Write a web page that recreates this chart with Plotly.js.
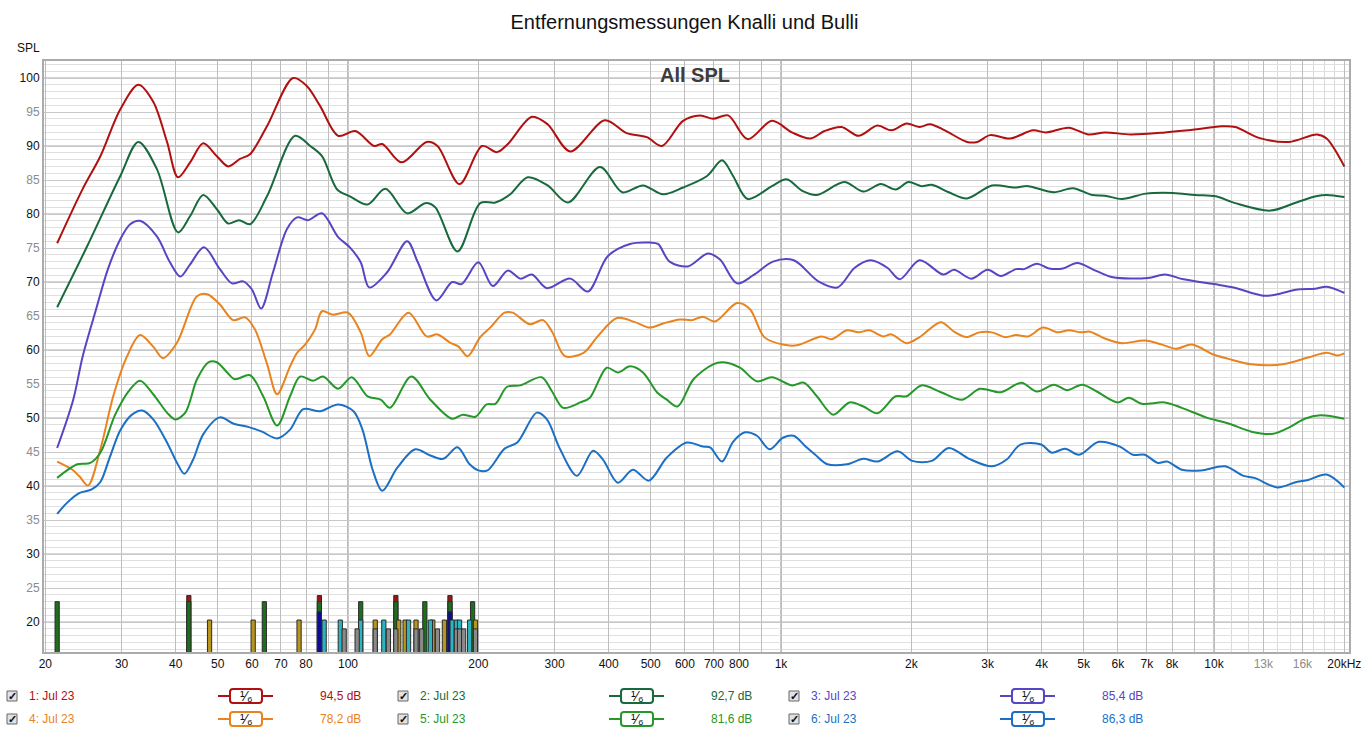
<!DOCTYPE html>
<html>
<head>
<meta charset="utf-8">
<script src="https://cdn.plot.ly/plotly-3.0.1.min.js"></script>
<style>
  html, body { margin: 0; padding: 0; background: #fff; }
  #chart { width: 1369px; height: 734px; }
</style>
</head>
<body>
<div id="chart"></div>
<script>
// measurement curves, Hz / dB SPL
const freq1 = [21.3,24.4,26.8,29.8,32.8,35.5,38.2,40.5,43.2,46.3,49.8,52.9,56.3,59.4,65.0,74.7,80.4,86.2,94.9,104,115,120,133,152,161,181,204,221,234,266,289,326,392,440,490,531,594,650,697,755,838,953,1060,1170,1260,1380,1510,1670,1800,1950,2090,2210,2390,2690,2840,3040,3380,3820,4090,4620,5120,5600,6420,7700,9230,10400,11200,12700,14900,17300,18200,20000];
const spl1 = [75.7,83.7,88.5,95.4,99.0,96.5,90.6,85.4,87.6,90.4,88.5,87.0,88.1,88.8,92.9,100.0,98.8,95.9,91.5,92.2,90.0,90.3,87.6,90.6,90.0,84.4,90.0,89.1,90.3,94.3,93.2,89.2,93.8,91.9,91.3,90.0,93.7,94.5,94.0,94.5,91.0,93.7,92.0,91.1,92.2,92.8,91.5,93.0,92.3,93.3,92.8,93.2,92.3,90.6,90.6,91.6,91.1,92.3,92.0,92.7,91.7,92.0,91.7,92.0,92.5,92.9,92.8,91.2,90.6,91.7,91.1,87.0];

const freq2 = [21.3,25.0,29.8,32.8,36.2,40.5,43.2,46.3,49.8,52.9,56.0,59.4,65.0,75.5,81.8,87.1,94.4,101,111,122,137,151,159,179,202,219,237,260,289,322,382,430,480,534,594,675,731,775,838,953,1030,1120,1210,1400,1550,1700,1840,1970,2110,2230,2440,2690,3070,3470,3720,4270,4720,5230,5600,6130,6960,8040,9040,10100,11200,13500,15500,17200,18200,20000];
const spl2 = [66.3,75.3,85.6,90.6,86.6,77.3,79.7,82.8,80.7,78.6,79.1,78.5,82.6,91.5,90.0,88.5,83.6,82.6,81.4,83.7,80.1,81.6,81.0,74.5,81.6,81.7,82.9,85.4,84.2,81.7,86.9,83.2,84.2,82.9,83.9,85.6,87.9,85.6,82.2,84.1,85.1,83.4,82.8,84.7,83.3,84.4,83.6,84.7,84.1,84.3,83.2,82.3,84.2,83.9,84.1,83.2,83.8,82.8,82.7,82.2,83.0,83.1,82.8,82.6,81.6,80.5,81.7,82.6,82.8,82.5];

const freq3 = [21.3,23.2,24.4,26.2,27.9,29.8,31.4,33.1,36.2,38.8,41.0,43.2,46.5,50.6,54.0,57.3,60.0,63.0,67.1,72.3,76.3,80.9,87.1,94.9,101,107,112,123,137,145,160,174,183,200,216,234,250,266,288,326,358,398,448,498,520,553,609,678,723,792,863,958,1070,1220,1350,1480,1610,1760,1880,2090,2370,2510,2750,3000,3220,3490,3640,3900,4160,4480,4830,5360,5840,7040,7700,8510,10000,11100,13000,14000,15600,17100,18200,20000];
const spl3 = [45.6,52.7,59.1,66.0,71.9,76.3,78.5,79.0,76.7,72.9,70.8,72.6,75.1,71.9,69.8,70.1,68.9,66.1,71.4,77.8,79.5,79.1,80.1,76.6,75.1,72.9,69.2,71.4,76.0,72.9,67.3,70.0,69.7,72.9,69.4,71.7,70.5,71.1,69.1,70.5,68.6,73.8,75.6,75.8,75.6,73.0,72.3,74.2,73.3,69.8,71.0,73.0,73.2,70.1,69.2,72.1,73.2,72.1,70.4,73.2,71.1,71.8,70.5,71.8,70.9,71.9,71.9,72.7,72.0,72.0,72.8,71.6,70.7,70.6,71.1,70.4,69.7,69.2,68.0,68.2,68.9,69.0,69.3,68.4];

const freq4 = [21.3,23.1,24.0,25.1,26.8,28.7,30.9,33.1,35.5,37.4,40.3,44.8,47.3,50.6,54.3,57.9,61.0,65.0,68.6,73.5,76.3,79.6,83.9,87.1,92.4,100,107,112,120,125,138,152,161,172,180,189,202,213,230,240,263,282,296,317,350,376,418,460,498,534,584,624,660,704,792,848,915,1010,1090,1240,1310,1420,1510,1600,1720,1800,1950,2090,2340,2510,2680,2870,3070,3290,3490,3720,4030,4360,4620,4930,5170,5600,6130,6920,7590,8170,8890,10000,10800,12200,14400,16500,18200,19300,20000];
const spl4 = [43.6,42.4,41.4,40.1,45.4,53.2,59.1,62.2,60.5,58.8,61.1,67.9,68.2,66.7,64.4,64.8,63.0,58.0,53.5,57.6,59.6,60.8,63.0,65.7,65.2,65.5,62.6,59.1,61.6,62.3,65.5,62.0,62.3,61.1,60.5,59.1,61.9,63.3,65.5,65.5,63.8,64.4,62.7,59.1,59.6,61.9,64.7,64.1,63.3,63.9,64.5,64.4,64.9,64.2,66.9,66.0,61.9,60.8,60.7,62.0,61.6,62.9,62.6,62.9,62.0,62.3,61.0,61.9,64.1,62.7,61.9,62.6,62.6,61.9,62.2,62.0,63.3,62.6,62.9,62.6,62.7,61.7,61.0,61.4,60.8,60.2,60.8,59.3,58.7,57.9,57.9,58.9,59.6,59.2,59.5];

const freq5 = [21.3,23.7,25.4,26.8,29.0,31.1,33.1,35.5,38.2,39.9,42.1,44.8,47.6,49.8,52.6,54.8,59.4,63.7,68.6,73.5,77.5,83.1,87.6,94.9,102,111,119,125,140,155,174,184,197,209,219,233,250,280,296,314,344,362,396,420,448,480,517,545,577,628,697,735,804,880,953,1060,1130,1210,1320,1440,1550,1670,1840,1950,2110,2340,2620,2880,3220,3590,3900,4270,4580,4960,5360,6000,6360,6810,7700,8430,9580,10800,12200,13700,15000,16200,17600,20000];
const spl5 = [41.2,43.2,43.4,44.9,50.5,53.9,55.5,53.5,50.8,49.8,50.8,55.7,58.2,58.2,56.7,55.7,56.3,53.2,48.9,53.2,56.1,55.5,56.1,54.3,56.0,53.2,52.7,51.5,56.1,52.7,49.9,50.5,50.2,52.0,52.1,54.6,54.8,56.0,53.9,51.5,52.3,53.0,57.4,56.7,57.6,56.7,53.8,52.7,51.7,55.7,57.9,58.2,57.4,55.4,56.0,54.8,55.2,53.2,50.5,52.3,51.7,50.7,53.2,53.2,54.8,53.8,52.7,54.3,53.8,55.2,53.9,54.9,54.1,54.9,53.9,52.3,53.0,52.1,52.3,51.5,50.1,49.2,48.0,47.7,48.7,49.9,50.4,49.9];

const freq6 = [21.3,22.5,24.0,25.6,26.8,28.2,29.8,31.7,33.5,35.5,38.2,40.3,41.9,43.9,46.3,50.6,54.3,58.8,63.3,68.6,73.5,78.8,86.2,94.9,103,108,114,120,130,143,155,166,179,191,200,210,230,246,273,288,309,338,368,388,420,455,495,545,606,660,686,731,775,826,880,941,1010,1070,1140,1200,1280,1420,1550,1670,1860,2010,2230,2440,2720,3070,3320,3570,3990,4220,4530,4880,5420,6060,6500,6920,7420,7790,8430,9330,10600,11700,12400,14000,15500,16500,18200,20000];
const spl6 = [35.9,37.6,39.0,39.5,40.6,44.3,48.2,50.5,51.1,49.8,46.4,43.4,41.8,43.9,47.6,50.1,49.2,48.7,48.0,47.0,48.3,51.3,51.0,52.0,51.0,48.3,42.4,39.3,42.7,45.4,44.5,44.0,45.7,43.2,42.3,42.3,45.5,46.4,50.8,49.8,45.4,41.5,45.2,43.9,40.5,42.4,40.8,44.2,46.4,45.8,45.7,43.6,46.5,47.9,47.4,45.4,47.1,47.4,45.8,44.6,43.2,43.2,44.0,43.6,45.1,43.7,43.7,45.6,44.0,42.9,43.9,46.1,46.1,44.9,45.5,44.6,46.5,45.8,44.6,44.6,43.4,43.6,42.4,42.3,42.9,41.5,41.2,39.8,40.6,40.9,41.7,39.8];

// peak markers along the bottom
const peakRedF = [42.9, 85.9, 129, 172];
const peakRedY = [23.9, 23.9, 23.9, 23.9];
const peakGreenF = [21.3, 42.9, 64.1, 85.9, 107, 129, 150.5, 172, 194];
const peakGreenY = [23.0, 23.0, 23.0, 23.0, 23.0, 23.0, 23.0, 23.0, 23.0];
const peakNavyF = [85.9, 172];
const peakNavyY = [21.5, 21.5];
const peakGoldF = [47.9, 60.4, 77.1, 115.6, 131, 135.5, 143.6, 157, 167, 197];
const peakGoldY = [20.3, 20.3, 20.3, 20.3, 20.3, 20.3, 20.3, 20.3, 20.3, 20.3];
const peakCyanF = [88.1, 96.0, 107, 121, 138, 155, 174, 178, 181, 191];
const peakCyanY = [20.3, 20.3, 20.3, 20.3, 20.3, 20.3, 20.3, 20.3, 20.3, 20.3];
const peakGreyF = [98, 105, 115.6, 124, 129, 143.6, 148, 161, 178, 181, 185, 197];
const peakGreyY = [19.0, 19.0, 19.0, 19.0, 19.0, 19.0, 19.0, 19.0, 19.0, 19.0, 19.0, 19.0];

const seriesNames = ["1: Jul 23", "2: Jul 23", "3: Jul 23", "4: Jul 23", "5: Jul 23", "6: Jul 23"];
const seriesLevels = ["94,5 dB", "92,7 dB", "85,4 dB", "78,2 dB", "81,6 dB", "86,3 dB"];

// black labels on the main axes, grey ones on overlay axes
const xTickVals = [20,30,40,50,60,70,80,90,100,200,300,400,500,600,700,800,900,1000,2000,3000,4000,5000,6000,7000,8000,9000,10000,13000,16000,20000];
const xTickText = ["20","30","40","50","60","70","80","","100","200","300","400","500","600","700","800","","1k","2k","3k","4k","5k","6k","7k","8k","","10k","","","20kHz"];
const xGreyVals = [13000, 16000];
const xGreyText = ["13k", "16k"];
const yTickVals = [20,30,40,50,60,70,80,90,100];
const yGreyVals = [25,35,45,55,65,75,85,95];

const colors = ["#b01010", "#186a3c", "#5546c4", "#e8831f", "#26982a", "#1b6fc4"];
const grey = "#8c8c8c";

const freqs = [freq1, freq2, freq3, freq4, freq5, freq6];
const spls = [spl1, spl2, spl3, spl4, spl5, spl6];

const xRange = [Math.log10(19.86), Math.log10(20500)];
const yRange = [15.6, 102.5];

function peakBars(f, y, color) {
  return {
    type: "bar", x: f, y: y,
    width: f.map(v => v * 0.0225),
    marker: { color: color, line: { color: "#2c2c2c", width: 1 } },
    hoverinfo: "skip", showlegend: false
  };
}

const data = [
  peakBars(peakRedF, peakRedY, "#9c1414"),
  peakBars(peakGreenF, peakGreenY, "#1d6e1d"),
  peakBars(peakNavyF, peakNavyY, "#0c0c96"),
  peakBars(peakGoldF, peakGoldY, "#b8961e"),
  peakBars(peakCyanF, peakCyanY, "#2cb4c2"),
  peakBars(peakGreyF, peakGreyY, "#8a8a8a")
];
freqs.forEach((f, i) => {
  data.push({
    type: "scatter", mode: "lines", x: f, y: spls[i],
    line: { color: colors[i], width: 2, shape: "spline", smoothing: 0.9 },
    hoverinfo: "skip", showlegend: false
  });
});
// empty trace so the overlay axes get drawn
data.push({ type: "scatter", mode: "lines", x: [], y: [], xaxis: "x2", yaxis: "y2", hoverinfo: "skip", showlegend: false });

// plot area in pixels, used to place the hand-made legend
const L = 44, R = 1349, T = 61, B = 652;
const px = x => (x - L) / (R - L);
const py = y => (B - y) / (B - T);

const shapes = [];
const annotations = [];

function note(x, y, text, font, xanchor) {
  annotations.push({
    xref: "paper", yref: "paper", x: px(x), y: py(y), text: text,
    xanchor: xanchor || "center", yanchor: "middle", showarrow: false, font: font
  });
}

// rounded box in pixel terms, turned into a paper path
function roundBox(x0, y0, x1, y1, r) {
  const X = v => px(v).toFixed(5), Y = v => py(v).toFixed(5);
  return `M${X(x0 + r)},${Y(y0)} L${X(x1 - r)},${Y(y0)} Q${X(x1)},${Y(y0)} ${X(x1)},${Y(y0 + r)} ` +
    `L${X(x1)},${Y(y1 - r)} Q${X(x1)},${Y(y1)} ${X(x1 - r)},${Y(y1)} L${X(x0 + r)},${Y(y1)} ` +
    `Q${X(x0)},${Y(y1)} ${X(x0)},${Y(y1 - r)} L${X(x0)},${Y(y0 + r)} Q${X(x0)},${Y(y0)} ${X(x0 + r)},${Y(y0)} Z`;
}

// darker decade and 10 dB lines
[100, 1000, 10000].forEach(v => shapes.push({
  type: "line", layer: "between", xref: "x", yref: "paper", x0: v, x1: v, y0: 0, y1: 1,
  line: { color: "#8a8a8a", width: 1 }
}));
yTickVals.forEach(v => shapes.push({
  type: "line", layer: "between", xref: "paper", yref: "y", x0: 0, x1: 1, y0: v, y1: v,
  line: { color: "#a8a8a8", width: 1 }
}));

note(695, 75, "All SPL", { size: 20, color: "#3c3c3c", weight: "bold", family: "Arial, Liberation Sans, sans-serif" });
note(28, 48, "SPL", { size: 12, color: "#111" });

// legend rows under the plot
const colOffset = [0, 391, 782];
const rowY = [696, 719];
seriesNames.forEach((name, i) => {
  const dx = colOffset[i % 3];
  const y = rowY[Math.floor(i / 3)];
  const c = colors[i];
  shapes.push({
    type: "rect", xref: "paper", yref: "paper",
    x0: px(7 + dx), x1: px(17 + dx), y0: py(y + 5), y1: py(y - 5),
    fillcolor: "#e2e2e2", line: { color: "#666", width: 1 }
  });
  note(12 + dx, y, "✓", { size: 11, color: "#111", weight: "bold" });
  note(27 + dx, y, name, { size: 12, color: c }, "left");
  shapes.push({
    type: "line", xref: "paper", yref: "paper",
    x0: px(218 + dx), x1: px(273 + dx), y0: py(y), y1: py(y),
    line: { color: c, width: 2 }
  });
  shapes.push({
    type: "path", xref: "paper", yref: "paper",
    path: roundBox(230 + dx, y - 7, 262 + dx, y + 7, 3),
    fillcolor: "#fff", line: { color: c, width: 2 }
  });
  note(246 + dx, y, "¹⁄₆", { size: 14, color: "#111" });
  note(318 + dx, y, seriesLevels[i], { size: 12, color: c }, "left");
});

const baseX = {
  type: "log", range: xRange, ticks: "", zeroline: false, tickfont: { size: 12 },
  showline: true, linecolor: "#ababab", linewidth: 2
};
const baseY = {
  range: yRange, ticks: "", zeroline: false, tickfont: { size: 12 },
  showline: true, linecolor: "#ababab", linewidth: 2
};

const layout = {
  width: 1369, height: 734,
  paper_bgcolor: "#fff", plot_bgcolor: "#fff",
  margin: { l: L, r: 1369 - R, t: T, b: 734 - B },
  font: { family: "Arial, Liberation Sans, sans-serif", size: 12, color: "#111" },
  title: {
    text: "Entfernungsmessungen Knalli und Bulli",
    x: 0.5, xanchor: "center", y: 0.97, yanchor: "middle",
    font: { size: 20, color: "#111" }
  },
  barmode: "overlay",
  showlegend: false,
  xaxis: Object.assign({}, baseX, {
    tickvals: xTickVals, ticktext: xTickText,
    showgrid: true, gridcolor: "#bdbdbd", gridwidth: 1,
    minor: { tickvals: [11000, 12000, 14000, 15000, 17000, 18000, 19000], showgrid: true, gridcolor: "#dadada", ticks: "" },
    mirror: true
  }),
  xaxis2: Object.assign({}, baseX, {
    overlaying: "x", side: "bottom", tickvals: xGreyVals, ticktext: xGreyText,
    tickfont: { size: 12, color: grey }, showgrid: false
  }),
  yaxis: Object.assign({}, baseY, {
    tickvals: yTickVals.concat(yGreyVals),
    ticktext: yTickVals.map(String).concat(yGreyVals.map(() => "")),
    showgrid: true, gridcolor: "#c8c8c8", gridwidth: 1,
    minor: { dtick: 1, showgrid: true, gridcolor: "#e0e0e0", ticks: "" },
    mirror: true
  }),
  yaxis2: Object.assign({}, baseY, {
    overlaying: "y", side: "left", tickvals: yGreyVals, ticktext: yGreyVals.map(String),
    tickfont: { size: 12, color: grey }, showgrid: false
  }),
  shapes: shapes,
  annotations: annotations
};

Plotly.newPlot("chart", data, layout, { staticPlot: true, displayModeBar: false });
</script>
</body>
</html>
